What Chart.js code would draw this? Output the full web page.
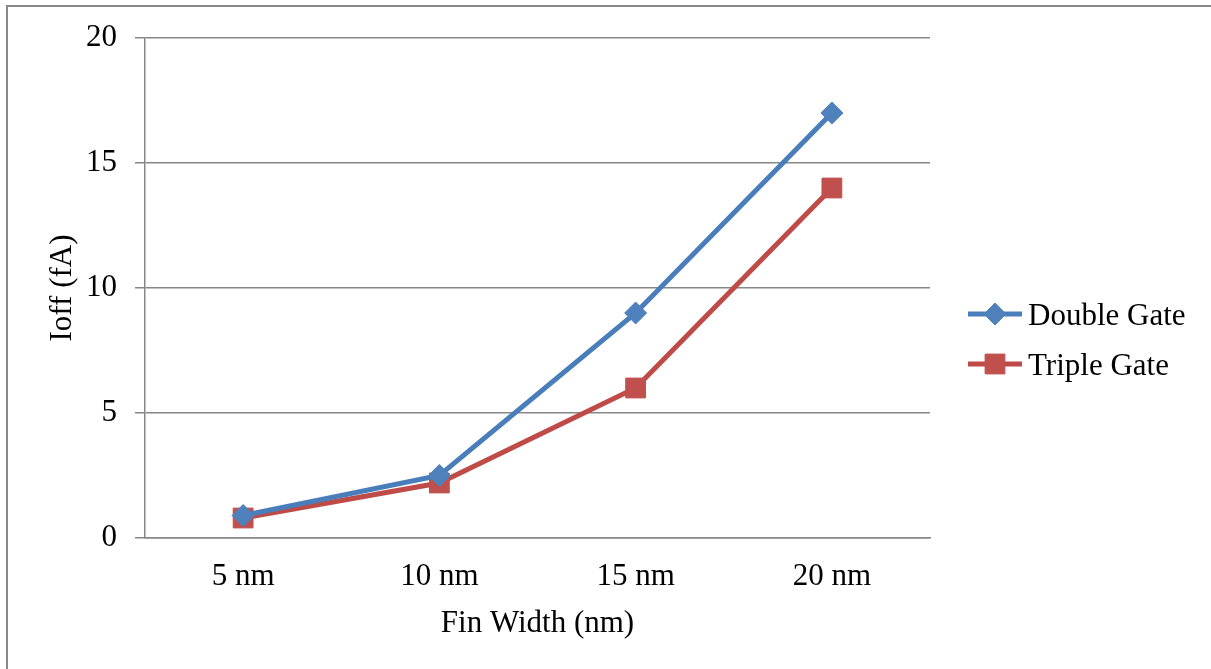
<!DOCTYPE html>
<html>
<head>
<meta charset="utf-8">
<title>Ioff vs Fin Width</title>
<script src="https://cdn.jsdelivr.net/npm/chart.js@4.4.1/dist/chart.umd.min.js"></script>
<style>
  html, body { margin: 0; padding: 0; background: #ffffff; }
  #wrap { width: 1211px; height: 669px; }
</style>
</head>
<body>
<div id="wrap"><canvas id="chart" width="1211" height="669"></canvas></div>
<script>
// Fin width categories and off-state leakage current (fA)
const finWidths = ['5 nm', '10 nm', '15 nm', '20 nm'];
const doubleGate = [0.9, 2.5, 9, 17];
const tripleGate = [0.8, 2.2, 6, 14];
const yTicks = [0, 5, 10, 15, 20];

const FONT_FAMILY = '"Liberation Serif", "Times New Roman", serif';
const GRID = '#878787';
const BLUE_LINE = '#4A7EBB';
const BLUE_FILL = '#4F81BD';
const RED_LINE = '#BE4B48';
const RED_FILL = '#C0504D';

// Outer frame and white background
const framePlugin = {
  id: 'frame',
  beforeDraw(chart) {
    const ctx = chart.ctx;
    ctx.save();
    ctx.fillStyle = '#ffffff';
    ctx.fillRect(0, 0, chart.width, chart.height);
    ctx.strokeStyle = '#888888';
    ctx.lineWidth = 2;
    ctx.beginPath();
    ctx.moveTo(7, chart.height);
    ctx.lineTo(7, 6);
    ctx.lineTo(chart.width, 6);
    ctx.stroke();
    ctx.restore();
  }
};

// Legend on the right: line sample with marker, then label
const sideLegend = {
  id: 'sideLegend',
  afterDraw(chart) {
    const ctx = chart.ctx;
    const area = chart.chartArea;
    const x0 = area.right + 38;
    const lineLen = 54;
    const rowY = [area.top + 276, area.top + 326];
    chart.data.datasets.forEach((ds, i) => {
      const y = rowY[i];
      ctx.save();
      ctx.strokeStyle = ds.borderColor;
      ctx.lineWidth = ds.borderWidth;
      ctx.lineCap = 'butt';
      ctx.beginPath();
      ctx.moveTo(x0, y);
      ctx.lineTo(x0 + lineLen, y);
      ctx.stroke();
      ctx.fillStyle = ds.pointBackgroundColor;
      ctx.strokeStyle = ds.pointBorderColor;
      ctx.lineWidth = 1;
      Chart.helpers.drawPoint(ctx, {
        pointStyle: ds.pointStyle,
        radius: ds.pointRadius,
        rotation: 0,
        borderWidth: 1
      }, x0 + lineLen / 2, y);
      ctx.fillStyle = '#000000';
      ctx.font = '31px ' + FONT_FAMILY;
      ctx.textAlign = 'left';
      ctx.textBaseline = 'middle';
      ctx.fillText(ds.label, x0 + lineLen + 6, y + 3);
      ctx.restore();
    });
  }
};

new Chart(document.getElementById('chart'), {
  type: 'line',
  data: {
    labels: finWidths,
    datasets: [
      {
        label: 'Double Gate',
        data: doubleGate,
        borderColor: BLUE_LINE,
        borderWidth: 5,
        pointStyle: 'rectRot',
        pointRadius: 11,
        pointHoverRadius: 11,
        pointBackgroundColor: BLUE_FILL,
        pointBorderColor: BLUE_FILL,
        pointBorderWidth: 1,
        tension: 0
      },
      {
        label: 'Triple Gate',
        data: tripleGate,
        borderColor: RED_LINE,
        borderWidth: 5,
        pointStyle: 'rect',
        pointRadius: 14,
        pointHoverRadius: 14,
        pointBackgroundColor: RED_FILL,
        pointBorderColor: RED_FILL,
        pointBorderWidth: 1,
        tension: 0
      }
    ]
  },
  options: {
    responsive: false,
    animation: false,
    events: [],
    layout: { padding: { left: 0, top: 38, right: 281, bottom: 0 } },
    plugins: {
      legend: { display: false },
      tooltip: { enabled: false }
    },
    scales: {
      x: {
        type: 'category',
        offset: true,
        grid: { display: false, drawTicks: false },
        border: { display: true, color: GRID, width: 1.5 },
        ticks: {
          color: '#000000',
          padding: 20,
          maxRotation: 0,
          font: { family: FONT_FAMILY, size: 31, lineHeight: 1.2 }
        },
        title: {
          display: true,
          text: 'Fin Width (nm)',
          color: '#000000',
          padding: { top: 0, bottom: 27 },
          font: { family: FONT_FAMILY, size: 31, lineHeight: 1.2 }
        },
        afterFit(scale) { scale.height = 131; }
      },
      y: {
        min: 0,
        max: 20,
        afterBuildTicks(scale) { scale.ticks = yTicks.map(v => ({ value: v })); },
        grid: {
          color: GRID,
          lineWidth: 1.5,
          drawTicks: true,
          tickLength: 10,
          tickColor: GRID
        },
        border: { display: true, color: GRID, width: 1.5 },
        ticks: {
          color: '#000000',
          padding: 18,
          font: { family: FONT_FAMILY, size: 31, lineHeight: 1.2 }
        },
        title: {
          display: true,
          text: 'Ioff (fA)',
          color: '#000000',
          padding: { top: 44, bottom: 0 },
          font: { family: FONT_FAMILY, size: 31, lineHeight: 1.2 }
        },
        afterFit(scale) { scale.width = 145; }
      }
    }
  },
  plugins: [framePlugin, sideLegend]
});
</script>
</body>
</html>
